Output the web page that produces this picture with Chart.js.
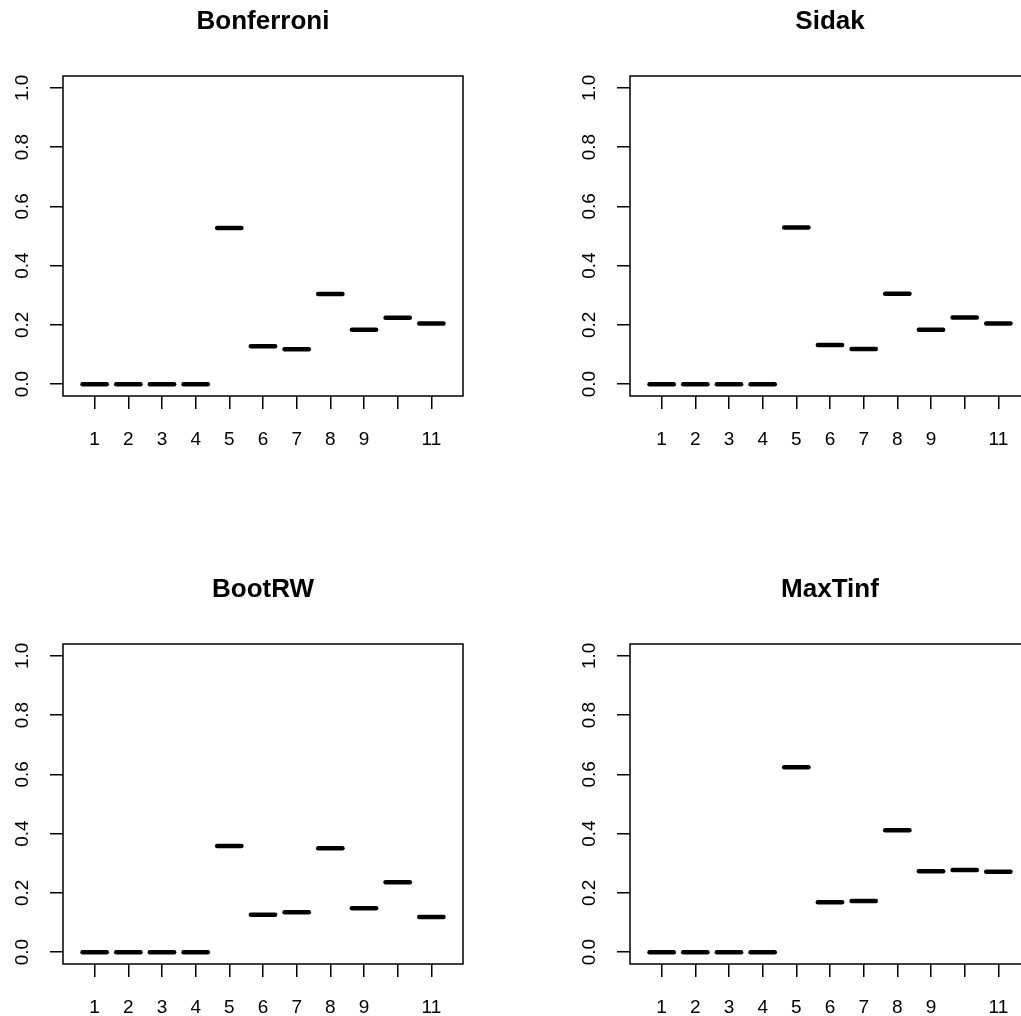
<!DOCTYPE html>
<html>
<head>
<meta charset="utf-8">
<script src="https://cdn.jsdelivr.net/npm/chart.js@4.4.1/dist/chart.umd.min.js"></script>
<style>
  html, body { margin: 0; padding: 0; background: #fff; overflow: hidden; }
  #grid { position: relative; width: 1134px; height: 1136px; }
  .panel { position: absolute; width: 567px; height: 568px; }
</style>
</head>
<body>
<div id="grid">
  <div class="panel" style="left:0;top:0"><canvas id="c0"></canvas></div>
  <div class="panel" style="left:567px;top:0"><canvas id="c1"></canvas></div>
  <div class="panel" style="left:0;top:568px"><canvas id="c2"></canvas></div>
  <div class="panel" style="left:567px;top:568px"><canvas id="c3"></canvas></div>
</div>
<script>
// groups on the x axis and one median per group for each method
const groups = [1, 2, 3, 4, 5, 6, 7, 8, 9, 10, 11];
const titles = ['Bonferroni', 'Sidak', 'BootRW', 'MaxTinf'];
const bonferroni = [0, 0, 0, 0, 0.527, 0.128, 0.118, 0.304, 0.184, 0.224, 0.205];
const sidak = [0, 0, 0, 0, 0.529, 0.132, 0.119, 0.305, 0.184, 0.225, 0.205];
const bootRW = [0, 0, 0, 0, 0.358, 0.126, 0.135, 0.351, 0.148, 0.236, 0.119];
const maxTinf = [0, 0, 0, 0, 0.624, 0.168, 0.173, 0.411, 0.273, 0.277, 0.271];

// R drops the "10" label because it would overlap
const xTickLabels = ['1', '2', '3', '4', '5', '6', '7', '8', '9', '', '11'];
const yTicks = [0, 0.2, 0.4, 0.6, 0.8, 1.0];
const yTickLabels = ['0.0', '0.2', '0.4', '0.6', '0.8', '1.0'];

const halfWidth = 0.36; // half of the median segment, in group units

Chart.defaults.font.family = '"Liberation Sans", Arial, sans-serif';
Chart.defaults.color = '#000';

// plain black box round the plot area, like R's frame
const framePlugin = {
  id: 'frame',
  afterDraw(chart) {
    const { ctx, chartArea: a } = chart;
    ctx.save();
    ctx.strokeStyle = '#000';
    ctx.lineWidth = 1.5;
    ctx.strokeRect(a.left, a.top, a.right - a.left, a.bottom - a.top);
    ctx.restore();
  },
};

function makePanel(id, title, values) {
  const datasets = values.map((v, i) => ({
    data: [{ x: groups[i] - halfWidth, y: v }, { x: groups[i] + halfWidth, y: v }],
    borderColor: '#000',
    borderWidth: 4.5,
    borderCapStyle: 'round',
    pointRadius: 0,
    fill: false,
  }));

  new Chart(document.getElementById(id), {
    type: 'line',
    data: { datasets },
    plugins: [framePlugin],
    options: {
      responsive: true,
      maintainAspectRatio: false,
      animation: false,
      events: [],
      layout: { padding: { left: 0, right: 104, top: 0, bottom: 112 } },
      plugins: {
        legend: { display: false },
        tooltip: { enabled: false },
        title: {
          display: true,
          fullSize: false, // centre over the plot box, not the whole canvas
          text: title,
          color: '#000',
          font: { size: 26, weight: 'bold' },
          padding: { top: 6.4, bottom: 38.4 },
        },
      },
      scales: {
        x: {
          type: 'linear',
          min: 0.06,
          max: 11.94,
          border: { display: false },
          grid: { drawOnChartArea: false, drawTicks: true, tickLength: 13, color: '#000', lineWidth: 1.5 },
          ticks: {
            autoSkip: false,
            minRotation: 0,
            maxRotation: 0,
            padding: 19,
            font: { size: 19 },
            color: '#000',
            callback: (value, index) => xTickLabels[index],
          },
          afterBuildTicks: (scale) => { scale.ticks = groups.map((g) => ({ value: g })); },
          afterFit: (scale) => { scale.height = 60; },
        },
        y: {
          min: -0.04,
          max: 1.04,
          border: { display: false },
          grid: { drawOnChartArea: false, drawTicks: true, tickLength: 13, color: '#000', lineWidth: 1.5 },
          ticks: {
            minRotation: 90,
            maxRotation: 90,
            crossAlign: 'center',
            padding: 14,
            font: { size: 19 },
            color: '#000',
            callback: (value, index) => yTickLabels[index],
          },
          afterBuildTicks: (scale) => { scale.ticks = yTicks.map((t) => ({ value: t })); },
          afterFit: (scale) => { scale.width = 63; },
        },
      },
    },
  });
}

makePanel('c0', titles[0], bonferroni);
makePanel('c1', titles[1], sidak);
makePanel('c2', titles[2], bootRW);
makePanel('c3', titles[3], maxTinf);
</script>
</body>
</html>
